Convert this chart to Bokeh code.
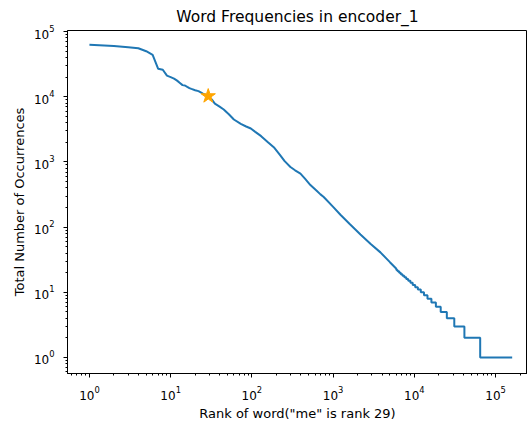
from bokeh.plotting import figure
from bokeh.models import LogTicker, Range1d, ColumnDataSource
from bokeh.embed import file_html
from bokeh.resources import INLINE

# Ranks and counts of the head of the distribution
ranks_head = [1, 2, 3, 4, 5, 6, 7, 8, 9, 10, 11, 12, 13, 14, 15, 16, 17, 18, 20, 22,
              25, 29, 32, 35, 40, 45, 52, 60, 73, 85, 97, 110, 130, 155, 189, 220,
              253, 298, 340, 396, 450, 525, 627, 698, 766, 1000, 1230, 1600, 2170, 2900,
              3820, 5000, 6000]
counts_head = [63000, 60000, 57500, 55500, 50000, 44000, 27000, 26000, 21100, 20000,
               19000, 17700, 16300, 15100, 14900, 14200, 13600, 13200, 12600, 12200,
               11200, 10250, 9130, 7830, 7050, 6370, 5400, 4480, 3840, 3500, 3260,
               2900, 2490, 2050, 1650, 1300, 1030, 837, 745, 664, 555, 442, 361, 318, 290,
               205, 155, 112, 77, 55, 41, 29, 23]

# Tail: integer counts and the last rank that has each count
step_counts = [22, 21, 20, 19, 18, 17, 16, 15, 14, 13, 12, 11, 10, 9, 8, 7, 6, 5, 4, 3, 2, 1]
step_end_ranks = [6210, 6495, 6800, 7140, 7520, 7940, 8400, 8940, 9540, 10240, 11040,
                  12000, 13130, 14500, 16210, 18400, 21100, 25100, 31000, 41300, 64600,
                  160000]

me_rank = 29
me_count = 10250

xs = list(ranks_head)
ys = list(counts_head)
prev_end = ranks_head[-1]
for c, end in zip(step_counts, step_end_ranks):
    xs += [prev_end + 1, end]
    ys += [c, c]
    prev_end = end

src = ColumnDataSource(data=dict(x=xs, y=ys))

FONT = "DejaVu Sans"

p = figure(width=527, height=423, x_axis_type="log", y_axis_type="log",
           x_range=Range1d(0.537, 247000), y_range=Range1d(0.568, 104000),
           output_backend="svg", toolbar_location=None,
           min_border_left=67, min_border_right=0, min_border_bottom=47, min_border_top=29,
           title="Word Frequencies in encoder_1")

p.title.text_font = FONT
p.title.text_font_size = "15.5px"
p.title.text_font_style = "normal"
p.title.text_color = "black"
p.title.align = "center"
p.title.standoff = 10

p.line("x", "y", source=src, line_color="#1f77b4", line_width=2)
p.scatter([me_rank], [me_count], marker="star", size=15,
          fill_color="orange", line_color="orange")

p.xgrid.visible = False
p.ygrid.visible = False
p.outline_line_color = "black"
p.outline_line_width = 1
p.background_fill_color = "white"
p.border_fill_color = "white"

p.xaxis.axis_label = 'Rank of word("me" is rank 29)'
p.yaxis.axis_label = "Total Number of Occurrences"

for ax in (p.xaxis, p.yaxis):
    ax.ticker = LogTicker(mantissas=[1], desired_num_ticks=6, num_minor_ticks=10)
    ax.axis_label_text_font = FONT
    ax.axis_label_text_font_size = "13px"
    ax.axis_label_text_font_style = "normal"
    ax.axis_label_text_color = "black"
    ax.major_label_text_font = FONT
    ax.major_label_text_font_size = "12px"
    ax.major_label_text_color = "black"
    ax.axis_line_color = "black"
    ax.major_tick_line_color = "black"
    ax.minor_tick_line_color = "black"
    ax.major_tick_in = 0
    ax.major_tick_out = 4
    ax.minor_tick_in = 0
    ax.minor_tick_out = 2

p.yaxis.major_label_standoff = 9
p.yaxis.axis_label_standoff = 4
p.xaxis.major_label_standoff = 8
p.xaxis.axis_label_standoff = 3

open("out.html", "w").write(file_html(p, INLINE))
